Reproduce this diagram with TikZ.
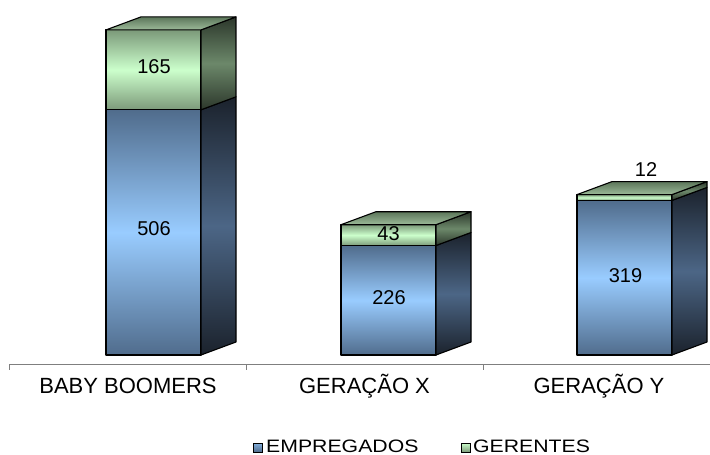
\documentclass[tikz,border=0pt]{standalone}
\usepackage{graphicx}
\usepackage{fontspec}
\setmainfont{Liberation Sans}
\usetikzlibrary{positioning}
\definecolor{emplight}{HTML}{99CCFF}
\definecolor{empedge}{HTML}{506C8C}
\definecolor{empside}{HTML}{4C6686}
\definecolor{empdark}{HTML}{1B222C}
\definecolor{gerlight}{HTML}{CCFFCC}
\definecolor{geredge}{HTML}{7C9A7A}
\definecolor{gerside}{HTML}{6C886A}
\definecolor{gerdark}{HTML}{2C372B}
\definecolor{gertopdark}{HTML}{5C765A}
\definecolor{gertoplight}{HTML}{9CBA99}
\definecolor{axisgray}{HTML}{7F7F7F}

% one stacked block of a bar: x left, y bottom, y top, face styles
\newcommand{\barblock}[5]{%
  \draw[#4] (#1,#2) rectangle ({#1+95},#3);
  \draw[#5] ({#1+95},#2) -- ({#1+95},#3) -- ({#1+130},{#3-13})
    -- ({#1+130},{#2-13}) -- cycle;
}
\newcommand{\bartop}[2]{%
  \draw[gertop] (#1,#2) -- ({#1+95},#2) -- ({#1+130},{#2-13})
    -- ({#1+35},{#2-13}) -- cycle;
}

\begin{document}
\begin{tikzpicture}[x=1pt,y=-1pt,
    face/.style={draw=black,line width=1.1pt,line join=round},
    empfront/.style={face,top color=empedge,bottom color=empedge,middle color=emplight},
    empsidef/.style={face,top color=empdark,bottom color=empdark,middle color=empside},
    gerfront/.style={face,top color=geredge,bottom color=geredge,middle color=gerlight},
    gersidef/.style={face,top color=gerdark,bottom color=gerdark,middle color=gerside},
    gertop/.style={face,top color=gertopdark,bottom color=gertoplight},
    value/.style={font=\fontsize{20}{24}\selectfont,inner sep=0pt},
    cat/.style={font=\fontsize{22}{26}\selectfont,inner sep=0pt,anchor=base},
    axis/.style={draw=axisgray,line width=1pt},
    keybox/.style={draw=black,line width=0.8pt,minimum size=9pt,inner sep=0pt},
    keytext/.style={font=\fontsize{18}{22}\selectfont,inner sep=0pt,anchor=base west}
  ]
  \useasboundingbox (0,0) rectangle (710,455);

  % axis
  \draw[axis] (9,364) -- (710,364);
  \foreach \x in {9,246,483}
    \draw[axis] (\x,364) -- (\x,370);

  % bars
  \barblock{106}{355}{109.8}{empfront}{empsidef}
  \barblock{106}{109.8}{29.9}{gerfront}{gersidef}
  \bartop{106}{29.9}
  \barblock{341}{355}{245.5}{empfront}{empsidef}
  \barblock{341}{245.5}{224.7}{gerfront}{gersidef}
  \bartop{341}{224.7}
  \barblock{577}{355}{200.4}{empfront}{empsidef}
  \barblock{577}{200.4}{194.6}{gerfront}{gersidef}
  \bartop{577}{194.6}

  % values
  \node[value] (bb-ger) at (154,67) {165};
  \node[value] (bb-emp) at (154,229) {506};
  \node[value] (gx-ger) at (388.5,233.5) {43};
  \node[value] (gx-emp) at (389,297.5) {226};
  \node[value] (gy-emp) at (625.5,275.5) {319};
  \node[value] (gy-ger) at (646,169.5) {12};

  % categories
  \node[cat] (bb) at (128,393) {BABY BOOMERS};
  \node[cat] (gx) at (364.5,393) {GERAÇÃO X};
  \node[cat] (gy) at (599,393) {GERAÇÃO Y};

  % legend
  \node[keybox,top color=emplight!70!empedge,bottom color=empedge] (key-emp) at (257.5,447.5) {};
  \node[keytext] (lbl-emp) at (266,452) {\scalebox{1.18}[1]{EMPREGADOS}};
  \node[keybox,top color=gerlight,bottom color=geredge] (key-ger) at (465.5,447.5) {};
  \node[keytext] (lbl-ger) at (473,452) {\scalebox{1.18}[1]{GERENTES}};
\end{tikzpicture}
\end{document}
